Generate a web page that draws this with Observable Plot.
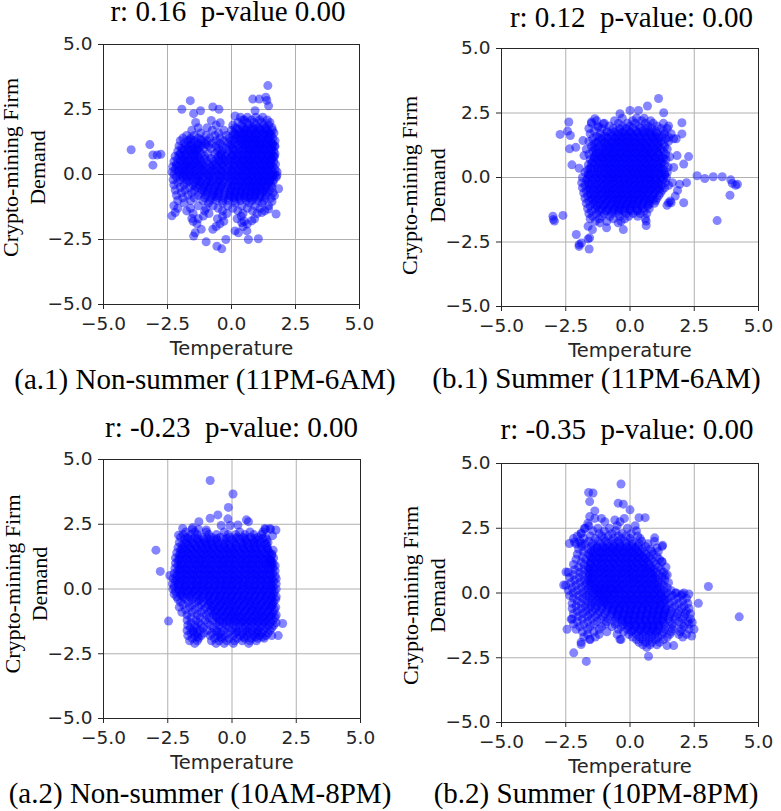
<!DOCTYPE html>
<html>
<head>
<meta charset="utf-8">
<script src="https://cdn.jsdelivr.net/npm/d3@7"></script>
<script src="https://cdn.jsdelivr.net/npm/@observablehq/plot@0.6"></script>
<style>
body { margin: 0; background: #fff; }
#wrap { position: relative; width: 781px; height: 811px; overflow: hidden; background: #fff; }
#wrap svg { position: absolute; left: 0; top: 0; }
#wrap svg text { white-space: pre; }
</style>
</head>
<body>
<div id="wrap"></div>
<script>
const ticks = [-5, -2.5, 0, 2.5, 5];
const titles = ["r: 0.16  p-value 0.00", "r: 0.12  p-value: 0.00", "r: -0.23  p-value: 0.00", "r: -0.35  p-value: 0.00"];
const captions = ["(a.1) Non-summer (11PM-6AM)", "(b.1) Summer (11PM-6AM)", "(a.2) Non-summer (10AM-8PM)", "(b.2) Summer (10PM-8PM)"];
const yLabel = "Crypto-mining Firm\nDemand";
const xLabel = "Temperature";

// (a.1) isolated points [temperature, demand]
const a1Outliers = [[-3.92,0.95],[-3.19,1.15],[-3.07,0.75],[-2.9,0.75],[-2.76,0.78],[-3.07,0.36],
[-1.61,2.84],[-1.94,2.51],[-1.48,2.34],[-1.21,2.45],[-0.73,2.6],[-0.49,2.51],[-0.79,2.08],[-0.44,1.99],[0.14,2.25],[0.44,2.1],[0.83,2.9],[1.08,2.9],[1.34,2.97],[1.42,3.42],[1.45,2.64],[1.38,2.85],[0.92,2.45],
[1.7,1.08],[1.68,0.69],[1.77,-0.03],[1.84,-0.55],[1.68,-0.81],[1.74,-1.52],
[-2.33,-1.59],[-2.2,-1.46],[-1.55,-1.69],[-1.42,-2.24],[-1.48,-2.37],[-1.18,-2.11],[-0.99,-2.59],[-0.57,-2.76],[-0.38,-2.86],[-0.22,-2.5],[-0.73,-2.11],[0.14,-2.17],[0.27,-2.24],[0.6,-2.17],[0.66,-2.5],[1.05,-2.47],[0.4,-1.85],[0.79,-1.78],[1.18,-1.46],[1.45,-1.33],[1.58,-1.04],
[-0.92,0.8],[-1.05,0.7],[-0.8,0.62]];
// (a.1) dense cloud, one row per demand value: [demand, temperature...]
const a1Rows = [
[2.2,0.35,0.62,0.95,1.22],
[2.1,0.5,0.78,1.1,1.4],
[2.0,-1.4,0.25,0.6,0.88,1.18,1.5],
[1.9,-0.6,0.05,0.4,0.7,0.95,1.25,1.45],
[1.8,-1.3,-0.95,0.15,0.45,0.62,0.85,1.05,1.32,1.58],
[1.7,-1.55,-0.75,-0.3,0.0,0.3,0.55,0.75,0.98,1.15,1.4,1.6],
[1.6,-1.2,-0.5,0.1,0.35,0.5,0.7,0.9,1.08,1.28,1.48,1.66],
[1.5,-1.75,-1.45,-1.0,-0.65,-0.2,0.05,0.25,0.45,0.62,0.8,0.98,1.2,1.38,1.55],
[1.4,-1.9,-1.6,-1.3,-0.85,-0.45,-0.1,0.18,0.38,0.55,0.72,0.88,1.05,1.25,1.45,1.62],
[1.3,-2.0,-1.7,-1.45,-1.15,-0.95,-0.6,-0.3,0.0,0.3,0.48,0.65,0.82,1.0,1.15,1.35,1.52,1.7],
[1.2,-1.85,-1.55,-1.3,-1.05,-0.75,-0.45,-0.15,0.12,0.4,0.58,0.75,0.92,1.1,1.28,1.45,1.6],
[1.1,-2.05,-1.8,-1.6,-1.4,-1.2,-0.9,-0.6,-0.35,-0.05,0.22,0.45,0.62,0.8,0.98,1.15,1.32,1.5,1.68],
[1.0,-1.95,-1.7,-1.5,-1.3,-1.1,-0.8,-0.5,-0.2,0.05,0.3,0.52,0.7,0.88,1.05,1.22,1.4,1.58],
[0.9,-2.1,-1.85,-1.65,-1.45,-1.25,-0.55,-0.35,-0.1,0.15,0.38,0.6,0.78,0.95,1.12,1.3,1.48,1.65],
[0.8,-2.0,-1.78,-1.58,-1.38,-1.18,-0.65,-0.42,-0.2,0.05,0.28,0.48,0.68,0.85,1.02,1.2,1.38,1.55,1.7],
[0.7,-2.2,-1.95,-1.72,-1.52,-1.32,-0.5,-0.25,0.0,0.2,0.42,0.62,0.8,0.98,1.15,1.32,1.5,1.65],
[0.6,-2.1,-1.88,-1.65,-1.45,-1.25,-1.05,-0.6,-0.35,-0.12,0.1,0.32,0.52,0.7,0.88,1.05,1.22,1.4,1.58],
[0.5,-2.25,-2.0,-1.8,-1.6,-1.4,-1.2,-0.95,-0.72,-0.48,-0.25,0.0,0.22,0.42,0.6,0.78,0.95,1.12,1.3,1.48,1.65],
[0.4,-2.15,-1.92,-1.72,-1.52,-1.32,-1.12,-0.88,-0.62,-0.4,-0.15,0.08,0.3,0.5,0.68,0.85,1.02,1.2,1.38,1.55,1.72],
[0.3,-2.3,-2.05,-1.85,-1.65,-1.45,-1.25,-1.02,-0.8,-0.55,-0.3,-0.08,0.15,0.38,0.58,0.75,0.92,1.1,1.28,1.45,1.62],
[0.2,-2.2,-1.98,-1.78,-1.58,-1.38,-1.15,-0.92,-0.68,-0.45,-0.2,0.02,0.25,0.45,0.65,0.82,1.0,1.18,1.35,1.52,1.7],
[0.1,-2.32,-2.1,-1.9,-1.7,-1.5,-1.28,-1.05,-0.82,-0.58,-0.35,-0.12,0.1,0.32,0.52,0.72,0.9,1.08,1.25,1.42,1.6,1.78],
[0.0,-2.25,-2.02,-1.82,-1.62,-1.4,-1.18,-0.95,-0.72,-0.48,-0.25,0.0,0.2,0.4,0.6,0.8,0.98,1.15,1.32,1.5,1.68],
[-0.1,-2.15,-1.92,-1.72,-1.5,-1.3,-1.08,-0.85,-0.62,-0.38,-0.15,0.08,0.3,0.5,0.7,0.88,1.05,1.22,1.4,1.58,1.75],
[-0.2,-2.28,-2.0,-1.78,-1.55,-1.35,-1.15,-0.92,-0.7,-0.48,-0.25,-0.02,0.2,0.42,0.62,0.8,0.98,1.15,1.32,1.5,1.65],
[-0.3,-2.1,-1.75,-1.42,-1.2,-0.98,-0.78,-0.55,-0.32,-0.1,0.12,0.35,0.55,0.72,0.9,1.08,1.25,1.45,1.62],
[-0.4,-2.25,-1.85,-1.5,-1.25,-1.05,-0.82,-0.6,-0.38,-0.15,0.05,0.28,0.48,0.68,0.85,1.02,1.2,1.38,1.55],
[-0.5,-2.0,-1.65,-1.32,-1.1,-0.88,-0.65,-0.42,-0.2,0.0,0.22,0.42,0.62,0.8,0.98,1.15,1.35,1.58],
[-0.6,-2.2,-1.82,-1.45,-1.15,-0.92,-0.7,-0.48,-0.25,-0.05,0.15,0.35,0.55,0.75,0.92,1.1,1.3,1.5],
[-0.7,-1.95,-1.55,-1.2,-0.95,-0.72,-0.5,-0.28,-0.05,0.15,0.38,0.58,0.78,0.98,1.18,1.4,1.62],
[-0.8,-2.15,-1.7,-1.3,-1.0,-0.75,-0.52,-0.3,-0.08,0.12,0.32,0.52,0.72,0.92,1.12,1.35],
[-0.9,-1.9,-1.45,-1.05,-0.8,-0.55,-0.3,-0.1,0.1,0.3,0.5,0.7,0.9,1.1,1.32,1.55],
[-1.0,-2.1,-1.6,-1.12,-0.85,-0.6,-0.35,-0.12,0.12,0.35,0.58,0.8,1.02,1.25],
[-1.1,-1.85,-0.9,-0.35,0.15,0.7,1.2],
[-1.2,-2.25,-1.3,-0.72,-0.15,0.4,0.92,1.45],
[-1.3,-2.1,-1.6,-1.0,-0.52,0.05,0.62,1.12],
[-1.4,-1.75,-1.05,-0.35,0.25,0.82,1.3],
[-1.5,-1.5,-0.88,-0.18,0.45,1.0],
[-1.6,-1.1,-0.35,0.38],
[-1.7,-1.3,-0.55,0.22,0.9],
[-1.8,-1.5,-0.3,0.5],
[-1.9,-1.35,-0.45,0.62],
[-2.0,-0.6,0.45]];
// (a.1) extra points in the darkest parts of the cloud
const a1Dense = [
[1.75,0.2,0.5,0.8,1.1,1.35],
[1.55,0.15,0.4,0.7,0.95,1.3,1.5],
[1.35,-1.6,-1.2,0.1,0.35,0.6,0.9,1.15,1.42],
[1.15,-1.7,-1.35,-1.0,0.0,0.3,0.55,0.85,1.1,1.38,1.6],
[0.95,-1.9,-1.55,-1.35,0.1,0.45,0.7,1.0,1.25,1.55],
[0.75,-2.05,-1.8,-1.45,-0.4,0.05,0.35,0.65,0.9,1.2,1.45],
[0.55,-1.95,-1.7,-1.35,-0.5,-0.2,0.15,0.45,0.72,1.0,1.3,1.55],
[0.35,-2.15,-1.78,-1.55,-1.2,-0.7,-0.35,0.05,0.35,0.62,0.9,1.2,1.5],
[0.15,-2.05,-1.8,-1.45,-1.1,-0.75,-0.4,0.0,0.3,0.58,0.85,1.15,1.45],
[-0.05,-1.9,-1.6,-1.25,-0.9,-0.55,-0.2,0.15,0.45,0.75,1.05,1.35,1.6],
[-0.25,-1.65,-1.25,-0.85,-0.45,0.05,0.35,0.65,0.95,1.25,1.5],
[-0.45,-1.4,-0.95,-0.5,0.1,0.4,0.7,1.0,1.3],
[-0.65,-1.05,-0.6,0.05,0.35,0.65,0.95,1.25],
[-0.85,-0.65,0.0,0.3,0.6,0.9]];

// (b.1)
const b1Outliers = [[1.11,3.06],[0.68,2.77],[1.31,2.51],[0.0,2.6],[0.33,2.6],[-0.39,2.47],
[-2.38,2.15],[-2.72,1.67],[-2.43,1.8],[-2.32,1.63],
[-2.11,1.17],[-2.35,1.11],[-2.26,0.49],[-1.98,0.36],[-1.83,1.43],[-1.79,0.85],
[-1.5,2.15],[-1.37,2.28],[-1.04,2.08],[-1.24,1.95],
[2.02,2.12],[2.02,1.69],[2.28,0.81],[2.09,0.52],[1.7,0.39],[1.83,0.85],[1.8,1.5],[1.5,1.56],[1.7,1.5],
[2.61,0.07],[2.91,-0.04],[3.24,0.03],[3.59,0.03],[3.92,-0.09],[3.98,-0.23],[4.11,-0.3],[4.18,-0.26],[3.89,-0.69],[3.39,-1.67],
[1.93,-0.26],[2.09,-0.98],[1.5,-0.98],[1.57,-0.91],[1.6,-0.98],[1.44,-1.08],[1.76,-0.72],[2.2,-0.2],[1.85,-0.5],
[-3.0,-1.5],[-2.98,-1.63],[-2.94,-1.69],[-2.61,-1.47],
[-2.09,-2.21],[-1.98,-2.6],[-1.89,-2.54],[-1.59,-2.77],[-1.57,-2.34],[-1.46,-2.02],[-1.63,-1.89],[-1.98,-2.67],[-1.63,-2.38],
[-0.46,-1.76],[-0.26,-2.02],[0.63,-1.69],[0.63,-1.86],[-0.91,-1.95],[-1.17,-1.76]];
const b1Rows = [
[2.3,-0.3,0.25,0.55],
[2.2,-1.3,-0.6,0.1,0.45,0.8],
[2.1,-1.5,-1.0,-0.45,-0.1,0.2,0.6,0.9,1.3],
[2.0,-1.25,-0.8,-0.3,0.0,0.35,0.7,1.05,1.5],
[1.9,-1.6,-1.1,-0.65,-0.4,-0.15,0.12,0.4,0.62,0.85,1.2,1.45],
[1.8,-1.4,-0.9,-0.55,-0.25,0.0,0.25,0.5,0.75,1.0,1.3],
[1.7,-1.55,-1.15,-0.75,-0.45,-0.2,0.05,0.3,0.55,0.8,1.05,1.35,1.6],
[1.6,-1.3,-1.0,-0.7,-0.5,-0.3,-0.1,0.12,0.35,0.58,0.8,1.0,1.25],
[1.5,-1.45,-1.1,-0.85,-0.6,-0.4,-0.2,0.0,0.2,0.42,0.65,0.88,1.1,1.4],
[1.4,-1.6,-1.25,-0.95,-0.72,-0.5,-0.3,-0.1,0.1,0.3,0.5,0.72,0.95,1.2,1.5],
[1.3,-1.4,-1.1,-0.85,-0.62,-0.42,-0.22,0.0,0.2,0.4,0.6,0.82,1.05,1.3],
[1.2,-1.5,-1.2,-0.95,-0.75,-0.55,-0.35,-0.15,0.05,0.25,0.45,0.65,0.88,1.1,1.35],
[1.1,-1.7,-1.35,-1.08,-0.85,-0.65,-0.45,-0.25,-0.05,0.15,0.35,0.55,0.75,0.98,1.2,1.45],
[1.0,-1.45,-1.2,-0.98,-0.78,-0.58,-0.38,-0.18,0.02,0.22,0.42,0.62,0.82,1.05,1.3],
[0.9,-1.6,-1.32,-1.1,-0.9,-0.7,-0.5,-0.3,-0.1,0.1,0.3,0.5,0.7,0.9,1.12,1.38],
[0.8,-1.4,-1.2,-1.0,-0.8,-0.6,-0.4,-0.2,0.0,0.2,0.4,0.6,0.8,1.0,1.25,1.55],
[0.7,-1.55,-1.3,-1.08,-0.88,-0.68,-0.48,-0.28,-0.08,0.12,0.32,0.52,0.72,0.92,1.15,1.4],
[0.6,-1.45,-1.22,-1.0,-0.8,-0.6,-0.4,-0.2,0.0,0.2,0.4,0.6,0.8,1.02,1.25],
[0.5,-1.62,-1.35,-1.12,-0.92,-0.72,-0.52,-0.32,-0.12,0.08,0.28,0.48,0.68,0.88,1.1,1.35],
[0.4,-1.5,-1.25,-1.02,-0.82,-0.62,-0.42,-0.22,-0.02,0.18,0.38,0.58,0.78,0.98,1.2,1.48],
[0.3,-1.65,-1.38,-1.15,-0.92,-0.72,-0.52,-0.32,-0.12,0.08,0.28,0.48,0.68,0.88,1.1,1.3],
[0.2,-1.75,-1.5,-1.25,-1.02,-0.82,-0.62,-0.42,-0.22,-0.02,0.18,0.38,0.58,0.78,0.98,1.2,1.45],
[0.1,-1.62,-1.38,-1.15,-0.92,-0.72,-0.52,-0.32,-0.12,0.08,0.28,0.48,0.68,0.88,1.1,1.35],
[0.0,-1.85,-1.55,-1.3,-1.08,-0.85,-0.65,-0.45,-0.25,-0.05,0.15,0.35,0.55,0.75,0.95,1.18,1.42],
[-0.1,-1.7,-1.45,-1.2,-0.98,-0.78,-0.58,-0.38,-0.18,0.02,0.22,0.42,0.62,0.82,1.02,1.25],
[-0.2,-1.88,-1.6,-1.35,-1.12,-0.9,-0.68,-0.48,-0.28,-0.08,0.12,0.32,0.52,0.72,0.92,1.12,1.38,1.65],
[-0.3,-1.75,-1.5,-1.25,-1.02,-0.8,-0.6,-0.4,-0.2,0.0,0.2,0.4,0.6,0.8,1.0,1.22,1.5],
[-0.4,-1.85,-1.6,-1.35,-1.12,-0.9,-0.7,-0.5,-0.3,-0.1,0.1,0.3,0.5,0.7,0.9,1.1,1.35],
[-0.5,-1.7,-1.45,-1.22,-1.0,-0.8,-0.6,-0.4,-0.2,0.0,0.2,0.4,0.6,0.8,1.0,1.25],
[-0.6,-1.8,-1.55,-1.3,-1.08,-0.88,-0.68,-0.48,-0.28,-0.08,0.12,0.32,0.52,0.72,0.95,1.18],
[-0.7,-1.65,-1.4,-1.18,-0.95,-0.75,-0.55,-0.35,-0.15,0.05,0.25,0.45,0.65,0.88,1.12],
[-0.8,-1.75,-1.5,-1.25,-1.02,-0.82,-0.62,-0.42,-0.22,-0.02,0.18,0.38,0.58,0.8,1.05],
[-0.9,-1.6,-1.35,-1.1,-0.88,-0.68,-0.48,-0.28,-0.08,0.12,0.32,0.52,0.75,1.0],
[-1.0,-1.7,-1.42,-1.18,-0.95,-0.72,-0.52,-0.32,-0.12,0.08,0.28,0.5,0.72,0.95],
[-1.1,-1.55,-1.28,-1.02,-0.8,-0.58,-0.38,-0.18,0.02,0.22,0.45,0.68],
[-1.2,-1.65,-1.35,-1.08,-0.85,-0.62,-0.42,-0.2,0.0,0.25,0.5,0.75],
[-1.3,-1.5,-1.2,-0.92,-0.68,-0.45,-0.22,0.02,0.28,0.55],
[-1.4,-1.6,-1.3,-1.0,-0.72,-0.45,-0.15,0.12,0.4,0.65],
[-1.5,-1.45,-1.1,-0.78,-0.4,-0.05,0.3],
[-1.6,-1.55,-1.2,-0.65,-0.2,0.6],
[-1.7,-1.35,-0.9,-0.35]];
const b1Dense = [
[1.75,-0.9,-0.6,-0.3,0.0,0.3,0.6,0.9],
[1.55,-1.2,-0.9,-0.6,-0.3,0.0,0.3,0.6,0.9,1.15],
[1.35,-1.3,-1.0,-0.7,-0.4,-0.1,0.2,0.5,0.8,1.1],
[1.15,-1.4,-1.05,-0.75,-0.45,-0.15,0.15,0.45,0.75,1.05],
[0.95,-1.3,-1.0,-0.7,-0.4,-0.1,0.2,0.5,0.8,1.1],
[0.75,-1.4,-1.1,-0.8,-0.5,-0.2,0.1,0.4,0.7,1.0,1.3],
[0.55,-1.5,-1.2,-0.9,-0.6,-0.3,0.0,0.3,0.6,0.9,1.2],
[0.35,-1.55,-1.25,-0.95,-0.65,-0.35,-0.05,0.25,0.55,0.85,1.15],
[0.15,-1.6,-1.3,-1.0,-0.7,-0.4,-0.1,0.2,0.5,0.8,1.1,1.35],
[-0.05,-1.65,-1.35,-1.05,-0.75,-0.45,-0.15,0.15,0.45,0.75,1.05,1.3],
[-0.25,-1.6,-1.3,-1.0,-0.7,-0.4,-0.1,0.2,0.5,0.8,1.1],
[-0.45,-1.55,-1.25,-0.95,-0.65,-0.35,-0.05,0.25,0.55,0.85,1.15],
[-0.65,-1.5,-1.2,-0.9,-0.6,-0.3,0.0,0.3,0.6,0.9],
[-0.85,-1.45,-1.15,-0.85,-0.55,-0.25,0.05,0.35,0.65,0.9],
[-1.05,-1.35,-1.05,-0.75,-0.45,-0.15,0.15,0.45,0.75],
[-1.25,-1.2,-0.9,-0.6,-0.3,0.0,0.3]];

// (a.2)
const a2Outliers = [[-0.85,4.19],[0.04,3.67],[-0.14,3.15],[-0.55,2.86],[-0.85,2.73],[-1.29,2.6],[-0.16,2.71],[-0.42,2.45],[-0.07,2.45],[0.23,2.47],[0.56,2.67],[0.64,2.6],[1.28,2.34],[1.48,2.34],[1.71,2.28],[1.58,2.06],[-2.96,1.5],[-2.79,0.68],[-2.47,-1.24],[-2.42,0.52],[1.97,-1.33],[1.8,-1.8],[1.54,1.04],[-1.92,2.34],[-1.53,2.37],[-2.08,2.08],[-1.0,2.28]];
const a2Rows = [
[2.3,-1.55,-1.3,1.3,1.5],
[2.2,-1.8,-1.45,-1.0,-0.3,0.3,0.7,1.2],
[2.1,-1.9,-1.6,-1.35,-0.9,-0.6,-0.15,0.15,0.5,0.85,1.15],
[2.0,-2.0,-1.75,-1.45,-1.15,-0.8,-0.45,-0.1,0.2,0.45,0.72,1.0,1.3],
[1.9,-1.85,-1.6,-1.35,-1.1,-0.85,-0.6,-0.3,0.0,0.3,0.55,0.8,1.05,1.35],
[1.8,-2.05,-1.78,-1.52,-1.28,-1.05,-0.82,-0.55,-0.25,0.05,0.35,0.6,0.85,1.1,1.4],
[1.7,-1.95,-1.7,-1.45,-1.22,-1.0,-0.78,-0.55,-0.32,-0.1,0.15,0.4,0.62,0.85,1.1,1.35],
[1.6,-2.1,-1.85,-1.62,-1.4,-1.18,-0.95,-0.72,-0.5,-0.28,-0.05,0.18,0.42,0.65,0.88,1.12,1.38],
[1.5,-2.0,-1.78,-1.55,-1.32,-1.1,-0.88,-0.65,-0.42,-0.2,0.02,0.25,0.48,0.7,0.92,1.15,1.4,1.6],
[1.4,-2.15,-1.92,-1.7,-1.48,-1.25,-1.02,-0.8,-0.58,-0.35,-0.12,0.1,0.32,0.55,0.78,1.0,1.22,1.45],
[1.3,-2.05,-1.82,-1.6,-1.38,-1.15,-0.92,-0.7,-0.48,-0.25,-0.02,0.2,0.42,0.65,0.88,1.1,1.32,1.55],
[1.2,-2.2,-1.98,-1.75,-1.52,-1.3,-1.08,-0.85,-0.62,-0.4,-0.18,0.05,0.28,0.5,0.72,0.95,1.18,1.4,1.62],
[1.1,-2.1,-1.88,-1.65,-1.42,-1.2,-0.98,-0.75,-0.52,-0.3,-0.08,0.15,0.38,0.6,0.82,1.05,1.28,1.5],
[1.0,-2.2,-1.98,-1.75,-1.52,-1.3,-1.08,-0.85,-0.62,-0.4,-0.18,0.05,0.28,0.5,0.72,0.95,1.18,1.4,1.6],
[0.9,-2.1,-1.88,-1.65,-1.42,-1.2,-0.98,-0.75,-0.52,-0.3,-0.08,0.15,0.38,0.6,0.82,1.05,1.28,1.5,1.68],
[0.8,-2.22,-2.0,-1.78,-1.55,-1.32,-1.1,-0.88,-0.65,-0.42,-0.2,0.02,0.25,0.48,0.7,0.92,1.15,1.38,1.6],
[0.7,-2.12,-1.9,-1.68,-1.45,-1.22,-1.0,-0.78,-0.55,-0.32,-0.1,0.12,0.35,0.58,0.8,1.02,1.25,1.48,1.68],
[0.6,-2.25,-2.02,-1.8,-1.58,-1.35,-1.12,-0.9,-0.68,-0.45,-0.22,0.0,0.22,0.45,0.68,0.9,1.12,1.35,1.58],
[0.5,-2.15,-1.92,-1.7,-1.48,-1.25,-1.02,-0.8,-0.58,-0.35,-0.12,0.1,0.32,0.55,0.78,1.0,1.22,1.45,1.68],
[0.4,-2.3,-2.05,-1.82,-1.6,-1.38,-1.15,-0.92,-0.7,-0.48,-0.25,-0.02,0.2,0.42,0.65,0.88,1.1,1.32,1.55,1.72],
[0.3,-2.2,-1.98,-1.75,-1.52,-1.3,-1.08,-0.85,-0.62,-0.4,-0.18,0.05,0.28,0.5,0.72,0.95,1.18,1.4,1.62],
[0.2,-2.32,-2.08,-1.85,-1.62,-1.4,-1.18,-0.95,-0.72,-0.5,-0.28,-0.05,0.18,0.4,0.62,0.85,1.08,1.3,1.52,1.72],
[0.1,-2.25,-2.0,-1.78,-1.55,-1.32,-1.1,-0.88,-0.65,-0.42,-0.2,0.02,0.25,0.48,0.7,0.92,1.15,1.38,1.6],
[0.0,-2.3,-2.08,-1.85,-1.62,-1.4,-1.18,-0.95,-0.72,-0.5,-0.28,-0.05,0.18,0.4,0.62,0.85,1.08,1.3,1.52,1.72],
[-0.1,-2.2,-1.95,-1.72,-1.5,-1.28,-1.05,-0.82,-0.6,-0.38,-0.15,0.08,0.3,0.52,0.75,0.98,1.2,1.42,1.65],
[-0.2,-2.25,-2.0,-1.78,-1.55,-1.32,-1.1,-0.88,-0.65,-0.42,-0.2,0.02,0.25,0.48,0.7,0.92,1.15,1.38,1.6],
[-0.3,-2.15,-1.9,-1.65,-1.4,-1.15,-0.92,-0.7,-0.48,-0.25,-0.02,0.2,0.42,0.65,0.88,1.1,1.32,1.55,1.72],
[-0.4,-2.1,-1.82,-1.55,-1.25,-0.98,-0.75,-0.52,-0.3,-0.08,0.15,0.38,0.6,0.82,1.05,1.28,1.5,1.7],
[-0.5,-2.0,-1.7,-1.4,-1.1,-0.85,-0.62,-0.4,-0.18,0.05,0.28,0.5,0.72,0.95,1.18,1.4,1.62],
[-0.6,-1.9,-1.55,-1.2,-0.92,-0.68,-0.45,-0.22,0.0,0.22,0.45,0.68,0.9,1.12,1.35,1.58],
[-0.7,-2.05,-1.65,-1.3,-1.0,-0.75,-0.52,-0.3,-0.08,0.15,0.38,0.6,0.82,1.05,1.28,1.5,1.7],
[-0.8,-1.8,-1.45,-1.1,-0.82,-0.58,-0.35,-0.12,0.1,0.32,0.55,0.78,1.0,1.22,1.45,1.65],
[-0.9,-1.95,-1.55,-1.2,-0.9,-0.65,-0.42,-0.2,0.02,0.25,0.48,0.7,0.92,1.15,1.38,1.6],
[-1.0,-1.75,-1.35,-1.0,-0.72,-0.48,-0.25,-0.02,0.2,0.42,0.65,0.88,1.1,1.32,1.55,1.72],
[-1.1,-1.6,-1.25,-0.9,-0.6,-0.35,-0.12,0.1,0.32,0.55,0.78,1.0,1.22,1.45,1.68],
[-1.2,-1.75,-1.4,-1.05,-0.75,-0.48,-0.22,0.02,0.25,0.48,0.7,0.92,1.15,1.38,1.6],
[-1.3,-1.6,-1.3,-0.95,-0.62,-0.35,-0.1,0.15,0.38,0.6,0.82,1.05,1.28,1.5,1.72],
[-1.4,-1.72,-1.45,-1.2,-0.85,-0.5,-0.22,0.05,0.3,0.52,0.75,0.98,1.2,1.42,1.62],
[-1.5,-1.62,-1.38,-1.12,-0.72,-0.4,-0.12,0.15,0.42,0.65,0.88,1.1,1.32,1.55],
[-1.6,-1.75,-1.5,-1.25,-0.95,-0.6,-0.3,0.0,0.28,0.55,0.78,1.0,1.25,1.48],
[-1.7,-1.6,-1.35,-1.1,-0.78,-0.45,-0.15,0.15,0.42,0.68,0.92,1.15,1.4],
[-1.8,-1.72,-1.45,-1.2,-0.85,-0.55,-0.28,0.05,0.32,0.58,0.82,1.08,1.32,1.55],
[-1.9,-1.55,-1.3,-0.68,-0.4,-0.12,0.2,0.48,0.75,1.0,1.25],
[-2.0,-1.65,-1.35,-0.8,-0.5,-0.2,0.1,0.4,0.7,0.95],
[-2.1,-1.45,-0.62,-0.3,0.05,0.65]];
const a2Dense = [
[1.95,-1.7,-1.3,-0.95,-0.6,-0.2,0.15,0.5,0.9,1.2],
[1.75,-1.85,-1.55,-1.2,-0.9,-0.6,-0.25,0.1,0.45,0.75,1.0,1.3],
[1.55,-1.95,-1.65,-1.35,-1.05,-0.75,-0.45,-0.15,0.15,0.45,0.75,1.05,1.35],
[1.35,-2.0,-1.7,-1.4,-1.1,-0.8,-0.5,-0.2,0.1,0.4,0.7,1.0,1.3,1.55],
[1.15,-2.05,-1.75,-1.45,-1.15,-0.85,-0.55,-0.25,0.05,0.35,0.65,0.95,1.25,1.5],
[0.95,-2.0,-1.7,-1.4,-1.1,-0.8,-0.5,-0.2,0.1,0.4,0.7,1.0,1.3,1.55],
[0.75,-2.05,-1.75,-1.45,-1.15,-0.85,-0.55,-0.25,0.05,0.35,0.65,0.95,1.25,1.5],
[0.55,-2.1,-1.8,-1.5,-1.2,-0.9,-0.6,-0.3,0.0,0.3,0.6,0.9,1.2,1.5],
[0.35,-2.15,-1.85,-1.55,-1.25,-0.95,-0.65,-0.35,-0.05,0.25,0.55,0.85,1.15,1.45],
[0.15,-2.1,-1.8,-1.5,-1.2,-0.9,-0.6,-0.3,0.0,0.3,0.6,0.9,1.2,1.5],
[-0.05,-2.05,-1.75,-1.45,-1.15,-0.85,-0.55,-0.25,0.05,0.35,0.65,0.95,1.25,1.55],
[-0.25,-1.95,-1.6,-1.25,-0.9,-0.6,-0.3,0.0,0.3,0.6,0.9,1.2,1.5],
[-0.45,-1.3,-0.9,-0.55,-0.25,0.05,0.35,0.65,0.95,1.25,1.55],
[-0.65,-0.8,-0.5,-0.2,0.1,0.4,0.7,1.0,1.3,1.55],
[-0.85,-0.7,-0.4,-0.1,0.2,0.5,0.8,1.1,1.4],
[-1.05,-0.6,-0.3,0.0,0.3,0.6,0.9,1.2,1.5],
[-1.25,-0.5,-0.2,0.1,0.4,0.7,1.0,1.3],
[-1.65,-1.5,-0.6,0.2,0.6,1.0],
[-1.85,-1.35,-0.45,0.45,0.9,1.2]];

// (b.2)
const b2Outliers = [[-0.35,4.21],[-1.61,3.88],[-1.44,3.86],[-1.57,3.53],[-0.46,3.47],[-0.26,3.43],[0.0,3.21],[-1.37,3.17],[-1.57,2.95],[-1.11,2.88],[-0.98,2.75],[-0.59,2.82],[-0.39,2.75],[-0.22,2.88],[0.35,2.91],[0.59,2.91],[0.96,2.13],[1.05,1.74],[1.27,1.84],[3.05,0.25],[2.66,-0.4],[4.25,-0.92],[-2.36,1.91],[-2.16,1.97],[-1.9,1.91],[-2.49,0.81],[-2.58,0.31],[-2.29,-1.01],[-2.45,-1.4],[-2.19,-2.31],[-1.7,-2.64],[-1.9,-1.99],[-1.57,-1.79],[-0.39,-1.79],[0.72,-2.44],[1.44,-2.03],[1.7,-2.03],[2.42,-1.14],[2.49,-1.4],[2.4,-1.66],[2.29,-0.04],[2.03,-0.04],[1.77,0.0],[1.37,0.68],[1.24,1.22],[-1.9,2.3],[-1.77,2.49],[-1.64,2.69],[-1.37,2.88]];
const b2Rows = [
[2.6,-1.6,-0.5,0.2],
[2.5,-1.75,-1.25,-0.8,-0.1],
[2.4,-1.45,-1.0,-0.55,0.25],
[2.3,-1.9,-1.2,-0.7,-0.3,0.05],
[2.2,-2.05,-1.55,-1.1,-0.85,-0.45,-0.15,0.3],
[2.1,-2.2,-1.8,-1.35,-1.0,-0.65,-0.35,0.0,0.4],
[2.0,-1.95,-1.6,-1.25,-0.95,-0.7,-0.45,-0.2,0.1,0.45,0.95],
[1.9,-2.1,-1.75,-1.45,-1.15,-0.88,-0.62,-0.4,-0.15,0.1,0.35,0.7],
[1.8,-1.88,-1.5,-1.28,-1.05,-0.82,-0.6,-0.38,-0.15,0.08,0.32,0.6,1.25],
[1.7,-2.0,-1.65,-1.4,-1.15,-0.92,-0.7,-0.48,-0.25,-0.02,0.22,0.48,0.8],
[1.6,-1.8,-1.52,-1.28,-1.05,-0.82,-0.6,-0.38,-0.15,0.08,0.3,0.55,0.85,1.1],
[1.5,-2.05,-1.6,-1.4,-1.18,-0.95,-0.72,-0.5,-0.28,-0.05,0.18,0.4,0.62,0.9],
[1.4,-1.85,-1.55,-1.3,-1.08,-0.85,-0.62,-0.4,-0.18,0.05,0.28,0.5,0.75,1.05],
[1.3,-2.1,-1.72,-1.45,-1.22,-1.0,-0.78,-0.55,-0.32,-0.1,0.12,0.35,0.58,0.82,1.15],
[1.2,-1.9,-1.55,-1.35,-1.12,-0.9,-0.68,-0.45,-0.22,0.0,0.22,0.45,0.68,0.92,1.25],
[1.1,-2.2,-1.78,-1.52,-1.28,-1.05,-0.82,-0.6,-0.38,-0.15,0.08,0.3,0.52,0.75,1.0],
[1.0,-2.0,-1.65,-1.42,-1.2,-0.98,-0.75,-0.52,-0.3,-0.08,0.15,0.38,0.6,0.82,1.1,1.4],
[0.9,-2.15,-1.8,-1.55,-1.32,-1.1,-0.88,-0.65,-0.42,-0.2,0.02,0.25,0.48,0.7,0.92,1.2],
[0.8,-2.4,-1.95,-1.62,-1.45,-1.22,-1.0,-0.78,-0.55,-0.32,-0.1,0.12,0.35,0.58,0.8,1.02,1.3],
[0.7,-2.2,-1.85,-1.58,-1.35,-1.12,-0.9,-0.68,-0.45,-0.22,0.0,0.22,0.45,0.68,0.9,1.12,1.45],
[0.6,-2.35,-1.98,-1.65,-1.48,-1.25,-1.02,-0.8,-0.58,-0.35,-0.12,0.1,0.32,0.55,0.78,1.0,1.25],
[0.5,-2.15,-1.8,-1.6,-1.38,-1.15,-0.92,-0.7,-0.48,-0.25,-0.02,0.2,0.42,0.65,0.88,1.1,1.35],
[0.4,-2.3,-1.95,-1.68,-1.5,-1.28,-1.05,-0.82,-0.6,-0.38,-0.15,0.08,0.3,0.52,0.75,0.98,1.2,1.5],
[0.3,-2.5,-2.1,-1.75,-1.55,-1.35,-1.15,-0.95,-0.72,-0.5,-0.28,-0.05,0.18,0.4,0.62,0.85,1.08,1.3],
[0.2,-2.25,-1.9,-1.62,-1.42,-1.2,-1.0,-0.8,-0.6,-0.4,-0.18,0.05,0.28,0.5,0.72,0.95,1.18,1.45],
[0.1,-2.4,-2.05,-1.72,-1.5,-1.3,-1.1,-0.9,-0.7,-0.5,-0.28,-0.05,0.18,0.4,0.62,0.85,1.08,1.32,1.6],
[0.0,-2.2,-1.85,-1.6,-1.4,-1.2,-1.0,-0.8,-0.6,-0.38,-0.15,0.08,0.3,0.52,0.75,0.98,1.2,1.45,1.8,2.1],
[-0.1,-2.35,-2.0,-1.7,-1.48,-1.28,-1.08,-0.88,-0.68,-0.45,-0.22,0.0,0.22,0.45,0.68,0.9,1.12,1.35,1.65,2.0],
[-0.2,-2.2,-1.85,-1.58,-1.38,-1.18,-0.98,-0.78,-0.55,-0.32,-0.1,0.12,0.35,0.58,0.8,1.02,1.25,1.5,1.85,2.2],
[-0.3,-2.05,-1.72,-1.48,-1.28,-1.08,-0.88,-0.65,-0.42,-0.2,0.02,0.25,0.48,0.7,0.92,1.15,1.38,1.7,2.05],
[-0.4,-2.25,-1.9,-1.6,-1.38,-1.18,-0.98,-0.75,-0.52,-0.3,-0.08,0.15,0.38,0.6,0.82,1.05,1.28,1.55,1.9,2.25],
[-0.5,-2.1,-1.75,-1.5,-1.28,-1.08,-0.85,-0.62,-0.4,-0.18,0.05,0.28,0.5,0.72,0.95,1.18,1.42,1.75,2.1],
[-0.6,-2.25,-1.9,-1.6,-1.35,-1.12,-0.9,-0.65,-0.42,-0.2,0.02,0.25,0.48,0.7,0.92,1.15,1.38,1.65,2.0,2.3],
[-0.7,-2.05,-1.72,-1.45,-1.2,-0.92,-0.68,-0.45,-0.22,0.0,0.22,0.45,0.68,0.9,1.12,1.35,1.6,1.9,2.2],
[-0.8,-2.2,-1.85,-1.55,-1.25,-0.98,-0.72,-0.48,-0.25,-0.02,0.2,0.42,0.65,0.88,1.1,1.32,1.58,1.85,2.15,2.35],
[-0.9,-2.0,-1.65,-1.35,-1.05,-0.78,-0.52,-0.28,-0.05,0.18,0.4,0.62,0.85,1.08,1.3,1.52,1.8,2.1],
[-1.0,-2.25,-1.85,-1.5,-1.15,-0.85,-0.55,-0.3,-0.08,0.15,0.38,0.6,0.82,1.05,1.28,1.5,1.75,2.05,2.35],
[-1.1,-2.05,-1.65,-1.28,-0.92,-0.6,-0.32,-0.08,0.15,0.38,0.6,0.82,1.05,1.28,1.55,1.9,2.25],
[-1.2,-2.2,-1.8,-1.4,-0.95,-0.58,-0.28,-0.02,0.22,0.45,0.68,0.9,1.12,1.35,1.65,2.0,2.3],
[-1.3,-1.95,-1.55,-1.1,-0.7,-0.35,-0.05,0.2,0.45,0.68,0.9,1.12,1.38,1.7,2.1],
[-1.4,-2.1,-1.65,-1.2,-0.45,-0.1,0.18,0.42,0.65,0.88,1.1,1.35,1.65,2.0,2.3],
[-1.5,-1.85,-1.4,-0.9,-0.25,0.05,0.32,0.58,0.82,1.05,1.3,1.6,1.95],
[-1.6,-1.65,-1.2,-0.5,-0.05,0.25,0.5,0.75,0.98,1.25,1.55,1.9,2.2],
[-1.7,-1.8,-1.35,0.1,0.38,0.62,0.85,1.1,1.45,2.05],
[-1.8,-1.55,-0.35,0.25,0.5,0.75,1.0,1.3],
[-1.9,-1.9,0.35,0.6,0.85,1.15],
[-2.0,0.5,0.78,1.05],
[-2.1,0.65]];
const b2Dense = [
[1.75,-1.3,-1.0,-0.7,-0.4,-0.1,0.2],
[1.55,-1.45,-1.15,-0.85,-0.55,-0.25,0.05,0.35],
[1.35,-1.5,-1.2,-0.9,-0.6,-0.3,0.0,0.3,0.6],
[1.15,-1.55,-1.25,-0.95,-0.65,-0.35,-0.05,0.25,0.55],
[0.95,-1.6,-1.3,-1.0,-0.7,-0.4,-0.1,0.2,0.5,0.8],
[0.75,-1.55,-1.25,-0.95,-0.65,-0.35,-0.05,0.25,0.55,0.85],
[0.55,-1.5,-1.2,-0.9,-0.6,-0.3,0.0,0.3,0.6,0.9],
[0.35,-1.45,-1.15,-0.85,-0.55,-0.25,0.05,0.35,0.65,0.95],
[0.15,-1.35,-1.05,-0.75,-0.45,-0.15,0.15,0.45,0.75,1.05],
[-0.05,-1.2,-0.9,-0.6,-0.3,0.0,0.3,0.6,0.9,1.2],
[-0.25,-1.05,-0.75,-0.45,-0.15,0.15,0.45,0.75,1.05,1.35],
[-0.45,-0.9,-0.6,-0.3,0.0,0.3,0.6,0.9,1.2],
[-0.65,-0.7,-0.4,-0.1,0.2,0.5,0.8,1.1,1.4],
[-0.85,-0.5,-0.2,0.1,0.4,0.7,1.0,1.3],
[-1.05,-0.3,0.0,0.3,0.6,0.9,1.2],
[-1.25,-0.1,0.2,0.5,0.8,1.1],
[-1.45,0.1,0.4,0.7,1.0]];

const unpack = rows => rows.flatMap(([y, ...xs]) => xs.map(x => [x, y]));

const fmt = d3.format(".1f");
const wrap = document.getElementById("wrap");

const panels = [
  {pts: a1Outliers.concat(unpack(a1Rows), unpack(a1Dense)), title: titles[0], caption: captions[0], L: 103, R: 359, T: 44, B: 304, tdx: -3.5, tdy: -33, ydx: -81, ydy: -7, cdx: -26.5, cdy: 75.7},
  {pts: b1Outliers.concat(unpack(b1Rows), unpack(b1Dense)), title: titles[1], caption: captions[1], L: 501, R: 758, T: 48, B: 306, tdx: 1.5, tdy: -31, ydx: -79.5, ydy: 8, cdx: -33.5, cdy: 72.7},
  {pts: a2Outliers.concat(unpack(a2Rows), unpack(a2Dense)), title: titles[2], caption: captions[2], L: 103, R: 360, T: 459, B: 718, tdx: -0.5, tdy: -32, ydx: -79, ydy: -5, cdx: -32, cdy: 75.7},
  {pts: b2Outliers.concat(unpack(b2Rows), unpack(b2Dense)), title: titles[3], caption: captions[3], L: 501, R: 758, T: 463, B: 722, tdx: -3, tdy: -34, ydx: -79, ydy: 2.5, cdx: -34, cdy: 71.7}
];

for (const p of panels) {
  const svg = Plot.plot({
    width: 781,
    height: 811,
    marginLeft: p.L,
    marginRight: 781 - p.R,
    marginTop: p.T,
    marginBottom: 811 - p.B,
    style: {background: "transparent", fontFamily: "DejaVu Sans", fontSize: "18.5px", color: "#262626", overflow: "visible"},
    x: {domain: [-5, 5], ticks: ticks, tickFormat: fmt, tickSize: 5, tickPadding: 7, label: null},
    y: {domain: [-5, 5], ticks: ticks, tickFormat: fmt, tickSize: 5, tickPadding: 6, label: null},
    marks: [
      Plot.ruleX(ticks, {stroke: "#b0b0b0", strokeWidth: 1}),
      Plot.ruleY(ticks, {stroke: "#b0b0b0", strokeWidth: 1}),
      Plot.dot(p.pts, {x: d => d[0], y: d => d[1], r: 4.5, fill: "#0000ff", fillOpacity: 0.48}),
      Plot.frame({stroke: "#262626", strokeWidth: 1}),
      Plot.text([xLabel], {text: d => d, frameAnchor: "bottom", textAnchor: "middle", lineAnchor: "middle", dy: 44, fontSize: 19.5, fontFamily: "DejaVu Sans"}),
      Plot.text([p.title], {text: d => d, frameAnchor: "top", textAnchor: "middle", lineAnchor: "middle", dx: p.tdx, dy: p.tdy, fontSize: 29, fontFamily: "Liberation Serif", fill: "#000"}),
      Plot.text([yLabel], {text: d => d, frameAnchor: "left", textAnchor: "middle", lineAnchor: "middle", rotate: -90, dx: p.ydx, dy: p.ydy, fontSize: 22, lineHeight: 1.25, fontFamily: "Liberation Serif", fill: "#000"}),
      Plot.text([p.caption], {text: d => d, frameAnchor: "bottom", textAnchor: "middle", lineAnchor: "middle", dx: p.cdx, dy: p.cdy, fontSize: 29, fontFamily: "Liberation Serif", fill: "#000"})
    ]
  });
  wrap.appendChild(svg);
}
</script>
</body>
</html>
